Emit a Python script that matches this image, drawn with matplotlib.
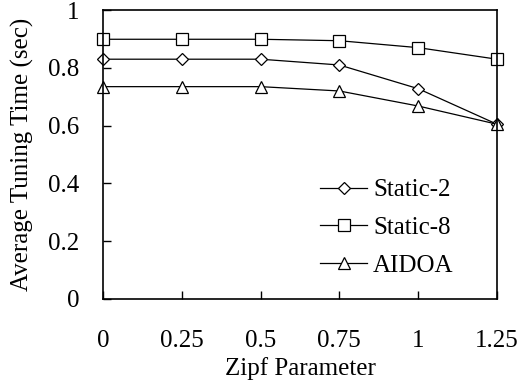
import matplotlib
matplotlib.use("Agg")
import matplotlib.pyplot as plt

zipf = [0, 0.25, 0.5, 0.75, 1, 1.25]
zipf_labels = ["0", "0.25", "0.5", "0.75", "1", "1.25"]
static2 = [0.830, 0.830, 0.830, 0.810, 0.728, 0.605]
static8 = [0.899, 0.899, 0.899, 0.894, 0.870, 0.830]
aidoa = [0.735, 0.735, 0.735, 0.720, 0.668, 0.605]
y_ticks = [0, 0.2, 0.4, 0.6, 0.8, 1]
y_labels = ["0", "0.2", "0.4", "0.6", "0.8", "1"]

plt.rcParams["font.family"] = ["Liberation Serif", "DejaVu Serif"]
plt.rcParams["font.size"] = 18

fig = plt.figure(figsize=(5.27, 3.88), dpi=100)
ax = fig.add_axes([0.1954, 0.2294, 0.7476, 0.7446])

style = dict(color="black", linewidth=0.9, markerfacecolor="white",
             markeredgecolor="black", markeredgewidth=0.9, clip_on=False)
ax.plot(zipf, static2, marker="D", markersize=6.5, label="Static-2", **style)
ax.plot(zipf, static8, marker="s", markersize=8.5, label="Static-8", **style)
ax.plot(zipf, aidoa, marker="^", markersize=9, label="AIDOA", **style)

ax.set_xlim(0, 1.25)
ax.set_ylim(0, 1)
ax.set_xticks(zipf)
ax.set_xticklabels(zipf_labels)
ax.set_yticks(y_ticks)
ax.set_yticklabels(y_labels)
ax.tick_params(axis="x", direction="in", length=6, width=1, pad=22)
ax.tick_params(axis="y", direction="in", length=6, width=1, pad=17)
for s in ax.spines.values():
    s.set_linewidth(1.2)

ax.set_xlabel("Zipf Parameter", labelpad=4)
ax.set_ylabel("Average Tuning Time (sec)", labelpad=10)

ax.legend(loc="center left", bbox_to_anchor=(0.551, 0.246), frameon=False,
          handlelength=1.88, handletextpad=0.24, labelspacing=0.61,
          borderpad=0, borderaxespad=0)

fig.savefig("out.png", dpi=100)
